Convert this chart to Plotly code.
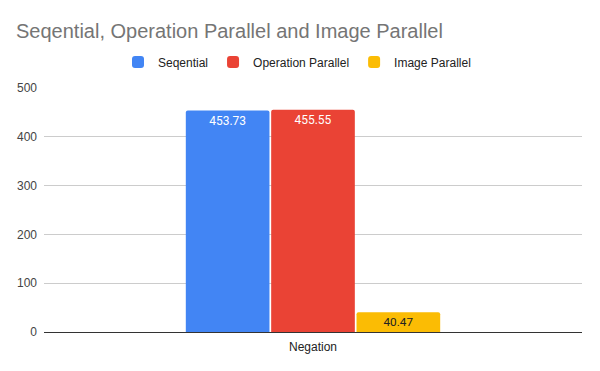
import plotly.graph_objects as go

categories = ["Negation"]
series_names = ["Seqential", "Operation Parallel", "Image Parallel"]
seq_values = [453.73]
op_values = [455.55]
img_values = [40.47]
colors = ["#4285F4", "#EA4335", "#FBBC04"]
text_colors = ["#ffffff", "#ffffff", "#222222"]
y_ticks = [0, 100, 200, 300, 400, 500]

fig = go.Figure()
for name, vals, c, tc in zip(series_names, [seq_values, op_values, img_values], colors, text_colors):
    fig.add_trace(go.Bar(
        x=categories, y=vals, name=name,
        marker=dict(color=c, line=dict(width=0), cornerradius=2),
        text=[f"{v:.2f}" for v in vals],
        textposition="inside", insidetextanchor="end",
        textfont=dict(family="Roboto, Arial, sans-serif", size=12, color=tc),
        textangle=0,
    ))

L, R, T, B = 44, 18, 88, 39
pw = 600 - L - R
ph = 371 - T - B

fig.update_layout(
    width=600, height=371,
    paper_bgcolor="white", plot_bgcolor="white",
    margin=dict(l=L, r=R, t=T, b=B, autoexpand=False),
    barmode="group", bargap=0.524, bargroupgap=0.02,
    font=dict(family="Liberation Sans, Arial, sans-serif", size=12, color="#222222"),
    title=dict(text="Seqential, Operation Parallel and Image Parallel",
               font=dict(family="Liberation Sans, Arial, sans-serif", size=20, color="#757575"),
               xref="container", x=16 / 600, xanchor="left",
               yref="container", y=1 - 31 / 371, yanchor="middle", automargin=False),
    legend=dict(orientation="h", xref="paper", x=(297 - L) / pw, xanchor="center",
                yref="paper", y=1 + (T - 62) / ph, yanchor="middle",
                font=dict(size=12, color="#222222"), itemwidth=30,
                traceorder="normal"),
    showlegend=True,
    hovermode=False,
)
fig.update_xaxes(showline=True, linecolor="#333333", linewidth=1, showgrid=False,
                 tickfont=dict(size=12, color="#222222"), ticks="", ticklabelstandoff=4,
                 automargin=False)
fig.update_yaxes(range=[0, 500], tickvals=y_ticks, showgrid=True, gridcolor="#cccccc",
                 zeroline=False, showline=False, ticks="", ticklabelstandoff=6,
                 tickfont=dict(size=12, color="#444444"), automargin=False)

fig.write_html("out.html", config={"displayModeBar": False},
               post_script="document.body.style.margin='0';")
